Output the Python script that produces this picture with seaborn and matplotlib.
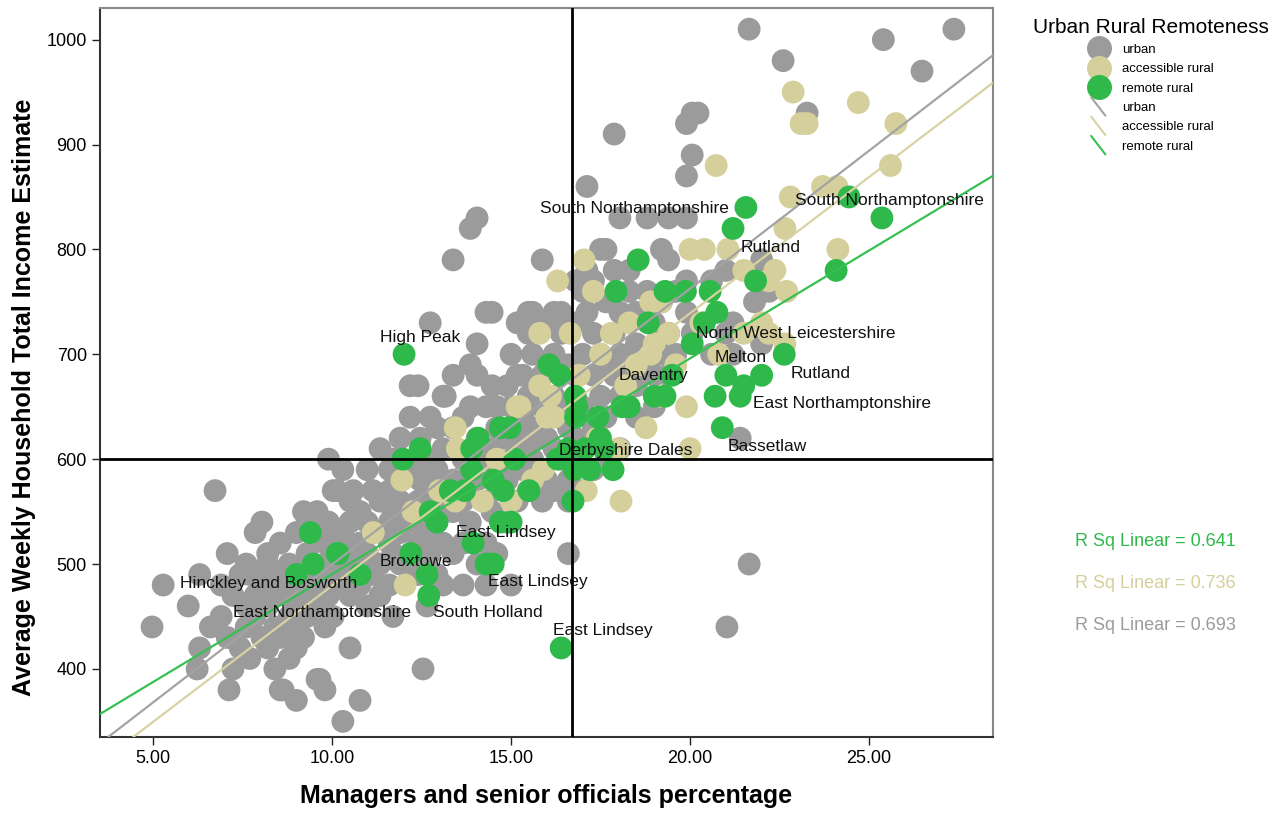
import pandas as pd
import matplotlib
matplotlib.use('Agg')
import matplotlib.pyplot as plt
import seaborn as sns
from matplotlib.lines import Line2D
from matplotlib.legend_handler import HandlerBase

# Data: (managers %, weekly income)
urban_x = [4.97, 5.28, 5.98, 6.23, 6.3, 6.3, 6.6, 6.73, 6.9, 6.9, 7.07, 7.07, 7.12, 7.23, 7.23,
           7.43, 7.43, 7.6, 7.6, 7.6, 7.7, 7.7, 7.85, 7.85, 7.85, 8.04, 8.04, 8.04, 8.2, 8.2,
           8.2, 8.2, 8.4, 8.4, 8.4, 8.4, 8.55, 8.55, 8.55, 8.55, 8.63, 8.8, 8.8, 8.8, 8.8,
           9.0, 9.0, 9.0, 9.0, 9.0, 9.0, 9.2, 9.2, 9.2, 9.2, 9.3, 9.3, 9.3, 9.3, 9.58,
           9.58, 9.58, 9.58, 9.58, 9.66, 9.8, 9.8, 9.8, 9.8, 9.9, 9.9, 9.9, 10.03, 10.03, 10.03,
           10.14, 10.14, 10.3, 10.3, 10.3, 10.3, 10.3, 10.5, 10.5, 10.5, 10.5, 10.5, 10.59, 10.59, 10.78,
           10.78, 10.78, 10.78, 10.98, 10.98, 10.98, 10.98, 11.14, 11.14, 11.14, 11.34, 11.34, 11.34, 11.34, 11.6,
           11.6, 11.6, 11.6, 11.6, 11.7, 11.7, 11.7, 11.7, 11.9, 11.9, 11.9, 11.9, 12.18, 12.18, 12.18,
           12.18, 12.18, 12.4, 12.4, 12.4, 12.4, 12.4, 12.46, 12.46, 12.54, 12.54, 12.54, 12.65, 12.65, 12.65,
           12.74, 12.74, 12.74, 12.74, 12.93, 12.93, 12.93, 12.93, 13.1, 13.1, 13.1, 13.1, 13.1, 13.16, 13.38,
           13.38, 13.38, 13.38, 13.38, 13.38, 13.66, 13.66, 13.66, 13.66, 13.66, 13.86, 13.86, 13.86, 13.86, 13.86,
           14.05, 14.05, 14.05, 14.05, 14.05, 14.05, 14.3, 14.3, 14.3, 14.3, 14.3, 14.3, 14.47, 14.47, 14.47,
           14.47, 14.6, 14.6, 14.6, 14.6, 14.89, 14.89, 14.89, 14.89, 15.0, 15.0, 15.0, 15.0, 15.17, 15.17,
           15.17, 15.17, 15.33, 15.33, 15.33, 15.48, 15.48, 15.48, 15.48, 15.48, 15.6, 15.6, 15.6, 15.6, 15.87,
           15.87, 15.87, 15.87, 15.87, 16.0, 16.0, 16.0, 16.0, 16.2, 16.2, 16.2, 16.2, 16.2, 16.4, 16.4,
           16.4, 16.4, 16.6, 16.6, 16.6, 16.6, 16.6, 16.8, 16.8, 16.8, 16.8, 16.8, 17.0, 17.0, 17.0,
           17.0, 17.12, 17.12, 17.12, 17.3, 17.3, 17.3, 17.3, 17.3, 17.5, 17.5, 17.5, 17.5, 17.65, 17.65,
           17.65, 17.65, 17.65, 17.88, 17.88, 17.88, 17.88, 18.04, 18.04, 18.04, 18.04, 18.04, 18.3, 18.3, 18.3,
           18.3, 18.5, 18.5, 18.5, 18.5, 18.8, 18.8, 18.8, 19.0, 19.0, 19.0, 19.2, 19.2, 19.2, 19.4,
           19.4, 19.4, 19.4, 19.6, 19.6, 19.9, 19.9, 19.9, 19.9, 19.9, 20.06, 20.06, 20.06, 20.22, 20.6,
           20.6, 21.0, 21.0, 21.4, 21.03, 21.2, 21.2, 21.65, 21.65, 21.8, 22.0, 22.0, 22.2, 22.6, 23.27,
           25.4, 26.48, 27.37]
urban_y = [440, 480, 460, 400, 490, 420, 440, 570, 450, 480, 510, 430, 380, 470, 400,
           420, 490, 460, 440, 500, 490, 410, 530, 450, 470, 540, 480, 430, 500, 460,
           420, 510, 490, 440, 470, 400, 520, 430, 380, 480, 380, 500, 450, 470, 410,
           370, 530, 480, 440, 460, 420, 550, 500, 430, 470, 540, 510, 450, 490, 550,
           530, 390, 480, 460, 390, 380, 520, 500, 440, 600, 470, 540, 570, 490, 450,
           570, 520, 590, 350, 530, 480, 500, 420, 540, 560, 470, 510, 570, 500, 370,
           550, 520, 480, 590, 540, 510, 460, 570, 530, 490, 610, 560, 500, 470, 570,
           540, 520, 480, 590, 450, 600, 510, 550, 620, 560, 530, 500, 640, 670, 590,
           540, 510, 670, 600, 560, 520, 490, 620, 580, 400, 550, 500, 600, 460, 530,
           730, 640, 570, 510, 630, 590, 540, 490, 660, 610, 560, 520, 480, 660, 680,
           790, 630, 580, 510, 550, 640, 600, 560, 520, 480, 820, 690, 650, 590, 540,
           830, 710, 680, 620, 580, 500, 740, 650, 600, 560, 480, 520, 740, 670, 610,
           550, 650, 630, 590, 510, 670, 620, 580, 540, 480, 700, 650, 600, 680, 730,
           620, 560, 680, 640, 590, 720, 740, 660, 610, 570, 740, 700, 630, 600, 790,
           680, 650, 620, 560, 730, 690, 620, 580, 740, 700, 660, 610, 570, 740, 720,
           650, 600, 510, 690, 630, 580, 560, 770, 730, 680, 620, 600, 760, 700, 650,
           570, 860, 780, 740, 770, 720, 680, 630, 590, 800, 700, 660, 620, 800, 750,
           690, 640, 600, 910, 780, 720, 680, 830, 740, 700, 660, 610, 780, 760, 700,
           680, 740, 710, 670, 640, 830, 760, 690, 730, 680, 650, 800, 750, 700, 830,
           790, 720, 680, 760, 700, 870, 920, 830, 770, 740, 930, 890, 720, 930, 770,
           700, 780, 720, 620, 440, 730, 700, 1010, 500, 750, 790, 710, 760, 980, 930,
           1000, 970, 1010]

access_x = [22.88, 24.7, 23.1, 23.27, 25.75, 20.73, 25.6, 22.8, 23.7, 24.1, 24.13, 22.65, 17.04, 21.06,
            20.0, 20.4, 21.5, 22.37, 22.2, 16.3, 16.65, 15.8, 17.3, 18.9, 19.2, 18.3, 19.4, 20.3,
            22.0, 22.2, 22.65, 22.7, 18.9, 17.5, 18.2, 15.8, 15.25, 16.1, 19.2, 18.77, 20.0, 18.07,
            17.1, 13.44, 13.5, 11.95, 11.15, 12.26, 13.0, 13.44, 12.04, 15.17, 16.0, 15.0, 15.6, 15.9,
            16.2, 17.8, 18.5, 19.6, 20.8, 21.5, 14.2, 14.6, 19.0, 18.0, 17.4, 16.9, 19.9]
access_y = [950, 940, 920, 920, 920, 880, 880, 850, 860, 860, 800, 820, 790, 800,
            800, 800, 780, 780, 770, 770, 720, 720, 760, 750, 750, 730, 720, 730,
            730, 720, 710, 760, 700, 700, 670, 670, 650, 660, 660, 630, 610, 560,
            570, 630, 610, 580, 530, 550, 570, 560, 480, 650, 640, 560, 580, 590,
            640, 720, 690, 690, 700, 720, 560, 600, 710, 610, 620, 680, 650]

remote_x = [12.01, 21.56, 21.2, 18.55, 17.93, 19.3, 19.87, 20.56, 21.83, 18.83, 20.75, 20.4, 20.06,
            24.44, 25.36, 24.08, 22.63, 21.0, 22.0, 21.5, 20.7, 21.4, 20.9, 19.5, 19.0, 19.3,
            18.3, 18.1, 16.06, 16.37, 16.79, 16.84, 17.43, 16.8, 17.49, 17.07, 17.6, 17.85, 17.2,
            16.76, 16.73, 16.4, 11.98, 12.46, 13.9, 14.08, 14.7, 14.97, 15.1, 13.9, 14.5, 14.78,
            15.5, 13.3, 13.7, 12.74, 12.93, 14.7, 15.0, 13.94, 14.3, 14.5, 12.2, 12.65, 12.7,
            10.17, 10.78, 9.39, 9.47, 9.0, 10.14, 16.3, 16.6]
remote_y = [700, 840, 820, 790, 760, 760, 760, 760, 770, 730, 740, 730, 710,
            850, 830, 780, 700, 680, 680, 670, 660, 660, 630, 680, 660, 660,
            650, 650, 690, 680, 660, 650, 640, 640, 620, 610, 610, 590, 590,
            590, 560, 420, 600, 610, 610, 620, 630, 630, 600, 590, 580, 570,
            570, 570, 570, 550, 540, 540, 540, 520, 500, 500, 510, 490, 470,
            510, 490, 530, 500, 490, 510, 600, 610]

groups = ['urban', 'accessible rural', 'remote rural']
colors = ['#9b9b9b', '#d5cf9b', '#2fb94b']
line_colors = ['#a3a3a3', '#d8d2a2', '#37c052']
# fit lines
fit_slope = [26.3, 25.97, 20.57]
fit_intercept = [236.6, 219.7, 284.7]
r_squared = ['0.693', '0.736', '0.641']

labels = ['High Peak', 'South Northamptonshire', 'South Northamptonshire', 'Rutland',
          'North West Leicestershire', 'Melton', 'Rutland', 'Daventry', 'East Northamptonshire',
          'Bassetlaw', 'Derbyshire Dales', 'East Lindsey', 'Broxtowe', 'East Lindsey',
          'Hinckley and Bosworth', 'East Northamptonshire', 'South Holland', 'East Lindsey']
label_x = [11.34, 15.81, 22.93, 21.4, 20.17, 20.7, 22.8, 18.0, 21.76,
           21.06, 16.34, 13.46, 11.34, 14.36, 5.75, 7.23, 12.82, 16.17]
label_y = [716, 839, 847, 802, 720, 697, 682, 680, 653,
           612, 608, 530, 502, 483, 481, 454, 454, 437]

df = pd.concat([
    pd.DataFrame({'mgr': urban_x, 'income': urban_y, 'group': 'urban'}),
    pd.DataFrame({'mgr': access_x, 'income': access_y, 'group': 'accessible rural'}),
    pd.DataFrame({'mgr': remote_x, 'income': remote_y, 'group': 'remote rural'}),
])

sns.set_theme(style='white')
plt.rcParams['font.family'] = ['Liberation Sans', 'DejaVu Sans']
plt.rcParams['text.color'] = 'black'


class DiagHandler(HandlerBase):
    def create_artists(self, legend, orig_handle, xdescent, ydescent, width, height, fontsize, trans):
        x0 = -xdescent + width * 0.15
        x1 = -xdescent + width * 0.75
        y0 = -ydescent + height * 1.5
        y1 = -ydescent - height * 0.5
        ln = Line2D([x0, x1], [y0, y1], color=orig_handle.get_color(), lw=1.5, transform=trans)
        return [ln]


fig = plt.figure(figsize=(12.84, 8.19), dpi=100)
ax = fig.add_axes([0.078, 0.100, 0.695, 0.890])

sns.scatterplot(data=df, x='mgr', y='income', hue='group', hue_order=groups,
                palette=dict(zip(groups, colors)), s=270, linewidth=0, alpha=1,
                legend=False, ax=ax, zorder=2)

for i in range(3):
    ax.axline((0, fit_intercept[i]), slope=fit_slope[i], color=line_colors[i], lw=1.6, zorder=3)

ax.axvline(16.7, color='black', lw=2, zorder=4)
ax.axhline(600, color='black', lw=2, zorder=4)

for name, lx, ly in zip(labels, label_x, label_y):
    ax.text(lx, ly, name, fontsize=12.5, va='center', ha='left', color='#111111', zorder=5)

ax.set_xlim(3.52, 28.45)
ax.set_ylim(335, 1030)
ax.set_xticks([5, 10, 15, 20, 25])
ax.set_xticklabels(['5.00', '10.00', '15.00', '20.00', '25.00'])
ax.set_yticks([400, 500, 600, 700, 800, 900, 1000])
ax.tick_params(axis='both', direction='out', length=6, width=1, color='#222222',
               labelsize=13, labelcolor='black', bottom=True, left=True)
ax.set_xlabel('Managers and senior officials percentage', fontsize=18, fontweight='bold',
              color='black', labelpad=12)
ax.set_ylabel('Average Weekly Household Total Income Estimate', fontsize=18, fontweight='bold',
              color='black')
ax.yaxis.set_label_coords(-0.072, 0.466)
for side in ['left', 'bottom']:
    ax.spines[side].set_color('#333333')
    ax.spines[side].set_linewidth(1.5)
for side in ['top', 'right']:
    ax.spines[side].set_color('#888888')
    ax.spines[side].set_linewidth(1.5)

handles = [Line2D([], [], marker='o', ls='', markersize=18, markerfacecolor=c, markeredgewidth=0)
           for c in colors]
handles += [Line2D([], [], color=c) for c in line_colors]
leg = fig.legend(handles, groups + groups, title='Urban Rural Remoteness',
                 loc='upper left', bbox_to_anchor=(0.795, 0.993), frameon=False,
                 fontsize=9.5, title_fontsize=15, labelspacing=0.54, handlelength=1.8,
                 handletextpad=0.8, handler_map={h: DiagHandler() for h in handles[3:]})

for i, (c, r) in enumerate(zip([colors[2], colors[1], colors[0]], [r_squared[2], r_squared[1], r_squared[0]])):
    fig.text(0.837, 1 - (542 + 42 * i) / 819, 'R Sq Linear = ' + r, color=c,
             fontsize=13, va='center', ha='left')

fig.savefig('out.png', dpi=100)
